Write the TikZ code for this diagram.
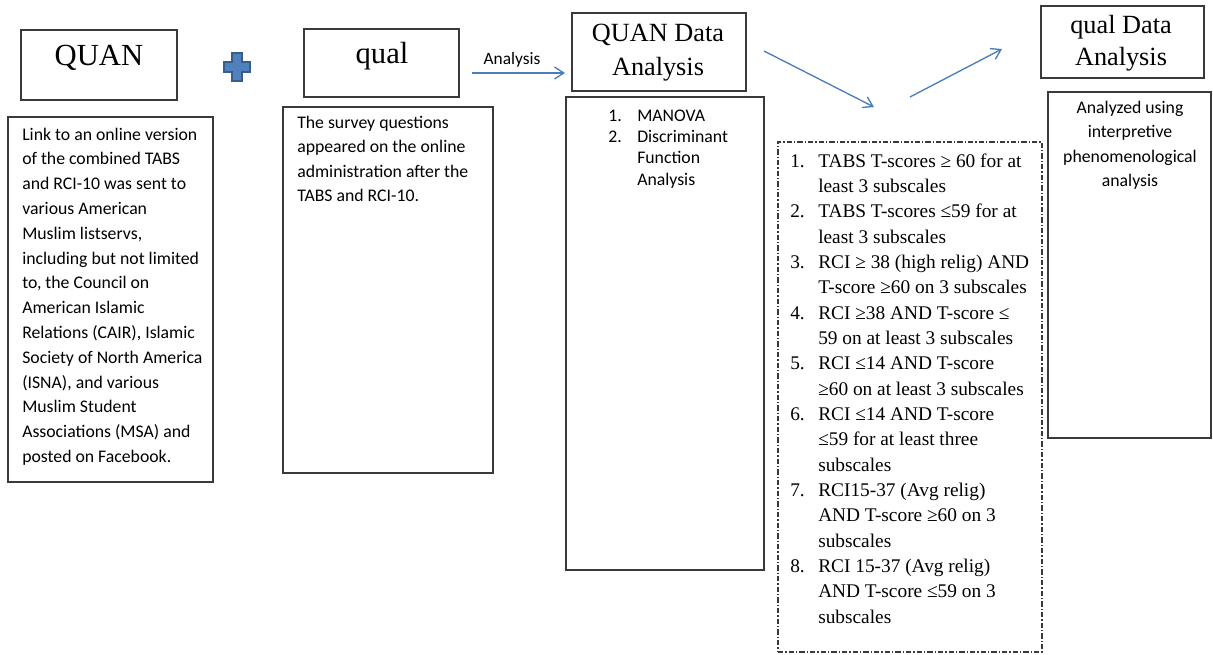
\documentclass[tikz,border=0pt]{standalone}
\usepackage{fontspec}
\setmainfont{Liberation Serif}
\newfontfamily\calib{Carlito}
\usetikzlibrary{arrows.meta,fit}
\definecolor{arrowblue}{HTML}{4A7EBB}
\definecolor{plusfill}{HTML}{4F81BD}
\definecolor{plusedge}{HTML}{385D8A}
\definecolor{edgegray}{HTML}{3A3A3A}
\newcommand\myleftlines[1]{\begin{tabular}[t]{@{}l@{}}#1\end{tabular}}
\newcommand\mycenterlines[1]{\begin{tabular}[t]{@{}c@{}}#1\end{tabular}}
\begin{document}
\begin{tikzpicture}[x=0.75pt,y=-0.75pt,
  box/.style={draw=edgegray, line width=1.1pt, inner sep=0pt},
  dbox/.style={draw=edgegray, line width=0.9pt, inner sep=0pt, dash pattern=on 4pt off 1.5pt on 1pt off 1.5pt},
  big/.style={font=\fontsize{23}{27}\selectfont, inner sep=0pt},
  titletext/.style={font=\fontsize{19.7}{25.5}\selectfont, inner sep=0pt},
  body/.style={font=\calib\fontsize{13.3}{18.6}\selectfont, inner sep=0pt},
  conn/.style={draw=arrowblue, line width=1pt, -{Straight Barb[length=7pt,width=9pt]}}]
\useasboundingbox (0,0) rectangle (1213,654);

% boxes
\path (21,30) coordinate (quan-nw) (177,100) coordinate (quan-se);
\node[box, fit=(quan-nw)(quan-se)] (quan) {};
\path (8,117) coordinate (link-nw) (213,482) coordinate (link-se);
\node[box, fit=(link-nw)(link-se)] (link) {};
\path (304,29) coordinate (qual-nw) (459,97) coordinate (qual-se);
\node[box, fit=(qual-nw)(qual-se)] (qual) {};
\path (283,107) coordinate (survey-nw) (493,473) coordinate (survey-se);
\node[box, fit=(survey-nw)(survey-se)] (survey) {};
\path (572,13) coordinate (qda-nw) (746,91) coordinate (qda-se);
\node[box, fit=(qda-nw)(qda-se)] (qda) {};
\path (566,97) coordinate (man-nw) (764,570) coordinate (man-se);
\node[box, fit=(man-nw)(man-se)] (man) {};
\path (778,142) coordinate (crit-nw) (1042,652) coordinate (crit-se);
\node[dbox, fit=(crit-nw)(crit-se)] (crit) {};
\path (1041,6) coordinate (lda-nw) (1204,78) coordinate (lda-se);
\node[box, fit=(lda-nw)(lda-se)] (lda) {};
\path (1048,92) coordinate (ipa-nw) (1211,438) coordinate (ipa-se);
\node[box, fit=(ipa-nw)(ipa-se)] (ipa) {};

% plus sign
\filldraw[fill=plusfill, draw=plusedge, line width=0.8pt]
  (232,53) -- (242,53) -- (242,62) -- (250,62) -- (250,72) -- (242,72) -- (242,81)
  -- (232,81) -- (232,72) -- (224,72) -- (224,62) -- (232,62) -- cycle;

% titles
\node[big, anchor=base] (quan-t) at (99,65) {QUAN};
\node[big, anchor=base] (qual-t) at (382,63) {qual};
\node[titletext, anchor=base] (qda-t) at (658,41) {\mycenterlines{QUAN Data\\Analysis}};
\node[titletext, anchor=base, font=\fontsize{19.7}{24}\selectfont] (lda-t) at (1121,33) {\mycenterlines{qual Data\\Analysis}};

% body texts
\node[body, anchor=base west] (link-t) at (22,140) {\myleftlines{Link to an online version\\of the combined TABS\\and RCI-10 was sent to\\various American\\Muslim listservs,\\including but not limited\\to, the Council on\\American Islamic\\Relations (CAIR), Islamic\\Society of North America\\(ISNA), and various\\Muslim Student\\Associations (MSA) and\\posted on Facebook.}};
\node[body, anchor=base west, font=\calib\fontsize{13.3}{18.4}\selectfont] (survey-t) at (297,128) {\myleftlines{The survey questions\\appeared on the online\\administration after the\\TABS and RCI-10.}};
\node[body, anchor=base west, font=\calib\fontsize{13.3}{16}\selectfont] (man-t) at (608,121)
  {\myleftlines{\makebox[21.75pt][l]{1.}MANOVA\\\makebox[21.75pt][l]{2.}Discriminant\\\hspace*{21.75pt}Function\\\hspace*{21.75pt}Analysis}};
\node[body, anchor=base, font=\calib\fontsize{13.3}{18.4}\selectfont] (ipa-t) at (1130,113)
  {\mycenterlines{Analyzed using\\interpretive\\phenomenological\\analysis}};
\node[anchor=base west, inner sep=0pt, font=\fontsize{14.5}{19}\selectfont] (crit-t) at (790,167)
  {\myleftlines{\makebox[21pt][l]{1.}TABS T-scores ≥ 60 for at\\\hspace*{21pt}least 3 subscales\\
   \makebox[21pt][l]{2.}TABS T-scores ≤59 for at\\\hspace*{21pt}least 3 subscales\\
   \makebox[21pt][l]{3.}RCI ≥ 38 (high relig) AND\\\hspace*{21pt}T-score ≥60 on 3 subscales\\
   \makebox[21pt][l]{4.}RCI ≥38 AND T-score ≤\\\hspace*{21pt}59 on at least 3 subscales\\
   \makebox[21pt][l]{5.}RCI ≤14 AND T-score\\\hspace*{21pt}≥60 on at least 3 subscales\\
   \makebox[21pt][l]{6.}RCI ≤14 AND T-score\\\hspace*{21pt}≤59 for at least three\\\hspace*{21pt}subscales\\
   \makebox[21pt][l]{7.}RCI15-37 (Avg relig)\\\hspace*{21pt}AND T-score ≥60 on 3\\\hspace*{21pt}subscales\\
   \makebox[21pt][l]{8.}RCI 15-37 (Avg relig)\\\hspace*{21pt}AND T-score ≤59 on 3\\\hspace*{21pt}subscales}};

% connectors
\coordinate (a1s) at (472,73);
\coordinate (a1e) at (565,73);
\draw[conn] (a1s) -- (a1e);
\node[font=\calib\fontsize{13}{15}\selectfont, inner sep=0pt, anchor=base] (an-t) at (512,64) {Analysis};
\coordinate (a2s) at (764,51);
\coordinate (a2e) at (874,107);
\draw[conn] (a2s) -- (a2e);
\coordinate (a3s) at (910,97);
\coordinate (a3e) at (1002,49);
\draw[conn] (a3s) -- (a3e);
\end{tikzpicture}
\end{document}
